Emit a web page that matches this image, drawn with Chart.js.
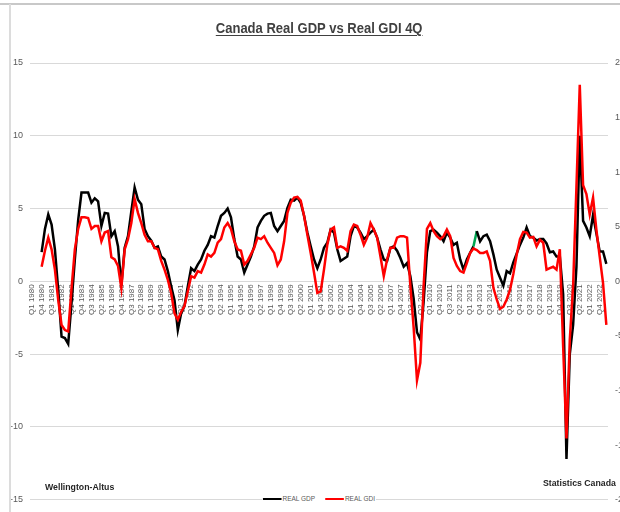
<!DOCTYPE html>
<html><head><meta charset="utf-8">
<script src="https://cdn.jsdelivr.net/npm/chart.js@4"></script>
<style>
html,body{margin:0;padding:0;background:#fff;}
body{width:620px;height:512px;overflow:hidden;position:relative;}
#wrap{position:absolute;left:0;top:0;width:640px;height:512px;}
.frameTop{position:absolute;left:0;top:3px;width:620px;height:0;border-top:2px solid #c8c8c8;}
.frameLeft{position:absolute;left:9px;top:4px;width:0;height:512px;border-left:2px solid #dcdcdc;}
#titleBox{position:absolute;left:0;width:639px;top:20px;text-align:center;line-height:16px;}
#title{display:inline-block;font:bold 14px 'Liberation Sans',Arial,sans-serif;color:#404040;text-decoration:underline;text-underline-offset:2px;transform:scaleX(0.93);transform-origin:center;white-space:nowrap;}
.note{position:absolute;font:bold 9.3px 'Liberation Sans',Arial,sans-serif;color:#262626;white-space:nowrap;transform:scaleX(0.94);transform-origin:left center;line-height:12px;}
#legend{position:absolute;left:262px;top:493px;height:12px;background:#fff;font:7px 'Liberation Sans',Arial,sans-serif;color:#595959;white-space:nowrap;padding:0 1px;line-height:12px;transform:scaleX(0.93);transform-origin:left center;}
#legend .sw{display:inline-block;width:20px;height:2.5px;vertical-align:middle;margin-right:1px;}
#legend .it{display:inline-block;margin-right:11px;}
</style>
</head><body>
<div id="wrap"><canvas id="c" width="640" height="512"></canvas></div>
<div class="frameTop"></div>
<div class="frameLeft"></div>
<div id="titleBox"><span id="title">Canada Real GDP vs Real GDI 4Q</span></div>
<div class="note" style="left:45px;top:481px;">Wellington-Altus</div>
<div class="note" style="left:543px;top:477px;">Statistics Canada</div>
<div id="legend"><span class="it"><span class="sw" style="background:#000"></span>REAL GDP</span><span class="it" style="margin-right:0"><span class="sw" style="background:#ff0000"></span>REAL GDI</span></div>
<script>
// Category labels: quarters Q1 1980 .. Q2 2023
const firstYear = 1980, lastYear = 2023, lastQuarter = 2;
const categories = [];
for (let y = firstYear; y <= lastYear; y++) {
  for (let q = 1; q <= 4; q++) {
    if (y === lastYear && q > lastQuarter) break;
    categories.push('Q' + q + ' ' + y);
  }
}

// Real GDP, 4-quarter % change
const gdp = [
  null,null,null,
  2.0,3.6,4.6,3.9,2.2,-0.6,-3.8,
  -3.9,-4.3,-1.5,1.5,4.2,6.1,6.1,6.1,5.4,5.7,
  5.5,3.8,4.7,4.65,3.1,3.45,2.4,-0.3,2.3,3.1,
  4.8,6.45,5.6,5.3,3.6,3.1,2.8,2.3,2.4,1.7,
  1.5,0.7,-0.35,-1.3,-3.35,-2.2,-1.7,-0.35,0.9,0.7,
  1.15,1.5,2.1,2.5,3.1,3.0,3.8,4.5,4.7,5.0,
  4.4,2.9,1.7,1.5,0.6,1.15,1.7,2.4,3.7,4.15,
  4.5,4.65,4.7,3.8,3.45,3.8,4.15,5.05,5.6,5.55,
  5.75,5.4,4.5,3.35,2.4,1.5,0.9,1.5,2.3,2.65,
  3.55,3.35,2.2,1.4,1.55,1.7,3.1,3.8,3.7,3.35,
  2.9,3.1,3.35,3.55,3.0,2.2,1.5,1.4,2.3,2.4,
  2.1,1.6,1.0,1.25,0.35,-1.2,-3.5,-4.0,-1.4,2.0,
  3.45,3.55,3.35,3.1,2.75,3.35,3.0,2.5,2.65,1.5,
  0.8,1.5,1.95,2.4,3.45,2.75,3.1,3.2,2.75,1.85,
  0.8,0.25,-0.3,0.7,0.55,1.3,1.9,2.5,3.0,3.7,
  3.1,3.0,2.8,2.9,2.9,2.6,2.0,2.05,1.7,1.7,
  -0.9,-12.2,-5.0,-3.0,1.0,10.0,4.15,3.7,3.1,4.55,
  3.3,2.05,2.05,1.2
];

// Real GDI, 4-quarter % change
const gdi = [
  null,null,null,
  1.0,2.1,3.0,2.2,0.8,-1.3,-3.0,
  -3.35,-3.45,-0.5,2.2,3.6,4.4,4.4,4.35,3.6,3.8,
  3.8,2.75,3.35,3.45,1.65,1.5,1.05,-0.45,2.2,2.9,
  4.0,5.65,4.7,4.0,3.2,2.75,2.75,2.3,2.2,1.4,
  0.8,0.1,-0.8,-2.2,-2.65,-2.1,-1.7,-0.7,0.35,0.25,
  0.7,0.6,1.15,1.85,1.7,1.95,2.65,2.9,3.7,4.0,
  3.6,2.75,2.2,2.1,1.15,1.4,1.85,2.3,3.0,2.9,
  3.1,2.65,2.3,1.95,1.1,1.5,2.75,4.7,5.4,5.75,
  5.8,5.55,4.5,3.2,1.95,0.6,-0.8,-0.7,0.8,2.5,
  3.55,3.7,2.3,2.4,2.3,2.1,3.45,3.9,3.8,3.2,
  2.5,3.0,4.0,3.55,3.0,1.7,0.35,1.5,2.3,2.3,
  3.0,3.1,3.1,3.0,-0.3,-3.2,-6.8,-5.6,-0.3,3.6,
  4.0,3.45,3.1,2.9,3.1,3.55,3.1,1.6,1.05,0.7,
  0.6,1.25,1.95,2.25,2.15,1.95,1.95,2.05,1.4,-0.45,
  -1.25,-1.9,-1.75,-1.25,-0.6,0.5,1.8,2.9,3.4,3.35,
  3.0,3.05,2.4,2.85,2.65,0.8,0.9,1.0,0.8,2.2,
  -4.5,-10.8,-4.0,-0.3,6.5,13.5,6.6,6.0,4.6,5.75,
  3.55,1.7,-0.1,-3.0
];

const leftAxis = {min: -15, max: 15, step: 5};
const rightAxis = {min: -20, max: 20, step: 5};
const greenSegmentStart = 133;

const tickFont = {family: "'Liberation Sans', Arial, sans-serif", size: 9};

new Chart(document.getElementById('c'), {
  type: 'line',
  data: {
    labels: categories,
    datasets: [
      {label: 'REAL GDP', data: gdp, borderColor: '#000000', borderWidth: 2.5, pointRadius: 0, tension: 0, order: 1,
       segment: {borderColor: c => c.p0DataIndex === greenSegmentStart ? '#00a651' : undefined}},
      {label: 'REAL GDI', data: gdi, borderColor: '#ff0000', borderWidth: 2.5, pointRadius: 0, tension: 0, order: 0}
    ]
  },
  options: {
    responsive: false,
    animation: false,
    devicePixelRatio: 1,
    layout: {padding: {top: 63, bottom: 9, left: 0, right: 0}},
    plugins: {legend: {display: false}, tooltip: {enabled: false}, title: {display: false}},
    scales: {
      x: {
        type: 'category', position: {y: 0}, offset: true,
        grid: {display: false, drawTicks: false}, border: {display: false},
        ticks: {autoSkip: false, minRotation: 90, maxRotation: 90, padding: 3, color: '#595959',
                font: {family: "'Liberation Sans', Arial, sans-serif", size: 8},
                callback: (v, i) => (i % 3 === 0 ? categories[i] : '')},
        afterFit: s => { s.height = 0; }
      },
      y: {
        position: 'left', min: leftAxis.min, max: leftAxis.max,
        ticks: {stepSize: leftAxis.step, padding: 7, color: '#595959', font: tickFont},
        grid: {color: '#d9d9d9', lineWidth: 1, drawTicks: false}, border: {display: false},
        afterFit: s => { s.width = 30; }
      },
      y2: {
        position: 'right', min: rightAxis.min, max: rightAxis.max,
        ticks: {stepSize: rightAxis.step, padding: 7, color: '#595959', font: tickFont},
        grid: {display: false, drawTicks: false}, border: {display: false},
        afterFit: s => { s.width = 32; }
      }
    }
  }
});
</script>
</body></html>
